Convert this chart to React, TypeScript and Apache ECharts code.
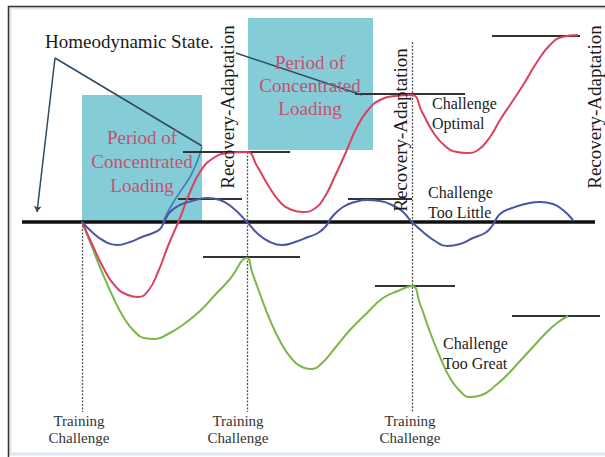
import React, { useEffect, useRef } from "react";
import * as echarts from "echarts";

// x: time units, y: performance level relative to the homeodynamic baseline (0)
const X_RANGE = [0, 605];
const Y_RANGE = [-235, 222];

const baselineSpan: [number, number] = [22, 595];

const challengeTimes = [82, 247, 412];
const recoveryLineTops = [0, 70, 180];
const recoveryLineBottom = -190;

const optimalCurve: [number, number][] = [
  [82, 0], [92, -22], [104, -47], [116, -65], [128, -73], [138, -75], [148, -69],
  [158, -50], [168, -24], [180, 4], [190, 30], [200, 50], [212, 63],
  [228, 69], [247, 70], [257, 56], [268, 37], [280, 20], [292, 12],
  [303, 10], [314, 13], [324, 24], [335, 46], [346, 70], [357, 95], [368, 112],
  [380, 122], [395, 126], [412, 127], [422, 110], [433, 90], [445, 76], [457, 70],
  [467, 69], [478, 72], [490, 85], [500, 102], [512, 120], [525, 140], [537, 160],
  [550, 177], [562, 185], [578, 187],
];

const tooLittleCurve: [number, number][] = [
  [82, 0], [92, -10], [104, -19], [117, -23], [130, -20], [142, -15], [153, -11],
  [160, -7], [164, 0], [170, 10], [180, 17], [192, 21], [207, 24], [220, 22],
  [233, 14], [247, 0], [258, -12], [270, -20], [282, -23], [295, -20], [308, -15],
  [318, -11], [326, -4], [332, 5], [343, 15], [355, 20], [367, 22], [380, 21],
  [392, 17], [402, 11], [412, 0], [423, -10], [435, -19], [447, -24], [460, -22],
  [473, -16], [485, -11], [492, -4], [500, 8], [512, 14], [525, 18], [540, 20],
  [553, 18], [563, 12], [573, 2],
];

const tooGreatCurve: [number, number][] = [
  [82, 0], [92, -25], [102, -50], [113, -75], [124, -96], [134, -109], [144, -116],
  [155, -117], [168, -112], [184, -102], [200, -89], [215, -73], [230, -57], [247, -36],
  [252, -50], [260, -72], [270, -98], [281, -121], [292, -137], [302, -145], [311, -147],
  [321, -142], [335, -126], [350, -108], [367, -91], [383, -76], [398, -69], [412, -64],
  [420, -82], [430, -110], [440, -135], [450, -156], [460, -169], [470, -175], [482, -173],
  [495, -164], [508, -152], [520, -139], [533, -125], [545, -112], [557, -101], [568, -94],
];

// level markers: [start, end, level]
const optimalMarkers: [number, number, number][] = [[183, 290, 70], [355, 465, 128], [492, 580, 186]];
const tooLittleMarkers: [number, number, number][] = [[178, 242, 23], [348, 412, 23]];
const tooGreatMarkers: [number, number, number][] = [[203, 300, -35], [375, 455, -64], [512, 600, -94]];

// loading periods: [start, end, top level, bottom level]
const loadingPeriods: [number, number, number, number][] = [[82, 202, 127, 0], [248, 373, 204, 72]];

// annotation pointer lines
const homeoOrigin: [number, number] = [55, 164];
const homeoTargets: [number, number][] = [[37, 10], [202, 76]];
const homeoSecondLine: [number, number][] = [[236, 169], [362, 127]];
const pointerTrail: [number, number][] = [[163, 0], [170, 14], [180, 30], [190, 45], [197, 60], [202, 75]];

const SERIF = "Liberation Serif";

export default function App() {
  const ref = useRef<HTMLDivElement>(null);
  useEffect(() => {
    if (!ref.current) return;
    const chart = echarts.init(ref.current, undefined, { renderer: "svg" });
    const markerLines = (arr: [number, number, number][]) =>
      arr.map(([a, b, l]) => [{ coord: [a, l] }, { coord: [b, l] }]);
    const txt = (size: number, fill: string, extra: any = {}) => ({
      fontFamily: SERIF, fontSize: size, fill, ...extra,
    });

    chart.setOption({
      animation: false,
      backgroundColor: "#ffffff",
      grid: { left: 0, right: 0, top: 0, bottom: 0, containLabel: false },
      xAxis: { type: "value", min: X_RANGE[0], max: X_RANGE[1], show: false, splitLine: { show: false } },
      yAxis: { type: "value", min: Y_RANGE[0], max: Y_RANGE[1], show: false, splitLine: { show: false } },
      series: [
        {
          type: "line",
          name: "baseline",
          z: 1,
          symbol: "none",
          data: [[baselineSpan[0], 0], [baselineSpan[1], 0]],
          lineStyle: { color: "#111", width: 3.5 },
        },
        {
          type: "line",
          name: "periods",
          z: 2,
          data: [],
          markArea: {
            silent: true,
            itemStyle: { color: "#44b3c4", opacity: 0.66 },
            data: loadingPeriods.map(([a, b, t, bt]) => [{ coord: [a, t] }, { coord: [b, bt] }]),
          },
        },
        {
          type: "line",
          name: "challenges",
          z: 3,
          data: [],
          markLine: {
            silent: true,
            symbol: ["none", "none"],
            label: { show: false },
            lineStyle: { color: "#555", width: 1.3, type: [2, 1.5] },
            data: challengeTimes.map((t, i) => [
              { coord: [t, recoveryLineTops[i]] },
              { coord: [t, recoveryLineBottom] },
            ]),
          },
        },
        {
          type: "line",
          name: "markers",
          z: 3,
          data: [],
          markLine: {
            silent: true,
            symbol: ["none", "none"],
            label: { show: false },
            lineStyle: { color: "#333", width: 2, type: "solid" },
            data: [
              ...markerLines(optimalMarkers),
              ...markerLines(tooLittleMarkers),
              ...markerLines(tooGreatMarkers),
            ],
          },
        },
        {
          type: "line",
          name: "pointers",
          z: 4,
          data: [],
          markLine: {
            silent: true,
            label: { show: false },
            symbol: ["none", "none"],
            lineStyle: { color: "#2f4a60", width: 1.5, type: "solid" },
            data: [
              [{ coord: homeoOrigin }, { coord: homeoTargets[0], symbol: "arrow", symbolSize: 6 }],
              [{ coord: homeoOrigin }, { coord: homeoTargets[1] }],
              [{ coord: homeoSecondLine[0] }, { coord: homeoSecondLine[1] }],
            ],
          },
        },
        {
          type: "line",
          name: "trail",
          z: 4,
          symbol: "none",
          smooth: 0.3,
          data: pointerTrail,
          lineStyle: { color: "#3d7fb5", width: 1.6 },
        },
        {
          type: "line",
          name: "Challenge Too Great",
          z: 5,
          symbol: "none",
          smooth: 0.5,
          data: tooGreatCurve,
          lineStyle: { color: "#7ab648", width: 2 },
        },
        {
          type: "line",
          name: "Challenge Optimal",
          z: 5,
          symbol: "none",
          smooth: 0.5,
          data: optimalCurve,
          lineStyle: { color: "#dc4060", width: 2 },
        },
        {
          type: "line",
          name: "Challenge Too Little",
          z: 5,
          symbol: "none",
          smooth: 0.5,
          data: tooLittleCurve,
          lineStyle: { color: "#4a55a5", width: 2 },
        },
      ],
      graphic: [
        { type: "rect", silent: true, z: 0, shape: { x: 10, y: 8, width: 600, height: 446 },
          style: { fill: "none", stroke: "#dbe8f3", lineWidth: 3 } },
        { type: "line", silent: true, shape: { x1: 8.5, y1: 6, x2: 8.5, y2: 457 }, style: { stroke: "#333", lineWidth: 1.5 } },
        { type: "line", silent: true, shape: { x1: 8, y1: 6.5, x2: 605, y2: 6.5 }, style: { stroke: "#333", lineWidth: 1.5 } },
        { type: "text", silent: true, z: 10, x: 45, y: 41,
          style: { text: "Homeodynamic State.", ...txt(19, "#1a1a1a", { verticalAlign: "middle" }) } },
        { type: "text", silent: true, z: 10, x: 142, y: 161,
          style: { text: "Period of\nConcentrated\nLoading", ...txt(19, "#c9506e", { align: "center", verticalAlign: "middle", lineHeight: 24 }) } },
        { type: "text", silent: true, z: 10, x: 310, y: 85,
          style: { text: "Period of\nConcentrated\nLoading", ...txt(19, "#c9506e", { align: "center", verticalAlign: "middle", lineHeight: 23 }) } },
        ...[[227, 107], [400, 130], [594, 107]].map(([x, y]) => ({
          type: "text", silent: true, z: 10, x, y, rotation: Math.PI / 2,
          style: { text: "Recovery-Adaptation", ...txt(19, "#1a1a1a", { align: "center", verticalAlign: "middle" }) },
        })),
        { type: "text", silent: true, z: 10, x: 432, y: 113,
          style: { text: "Challenge\nOptimal", ...txt(16, "#222", { verticalAlign: "middle", lineHeight: 20 }) } },
        { type: "text", silent: true, z: 10, x: 428, y: 202,
          style: { text: "Challenge\nToo Little", ...txt(16, "#222", { verticalAlign: "middle", lineHeight: 20 }) } },
        { type: "text", silent: true, z: 10, x: 443, y: 353,
          style: { text: "Challenge\nToo Great", ...txt(16, "#222", { verticalAlign: "middle", lineHeight: 20 }) } },
        ...[[79, 429], [238, 429], [410, 429]].map(([x, y]) => ({
          type: "text", silent: true, z: 10, x, y,
          style: { text: "Training\nChallenge", ...txt(15, "#333", { align: "center", verticalAlign: "middle", lineHeight: 17 }) },
        })),
      ],
    });
    return () => chart.dispose();
  }, []);
  return <div ref={ref} style={{ position: "fixed", left: 0, top: 0, width: 605, height: 457 }} />;
}
